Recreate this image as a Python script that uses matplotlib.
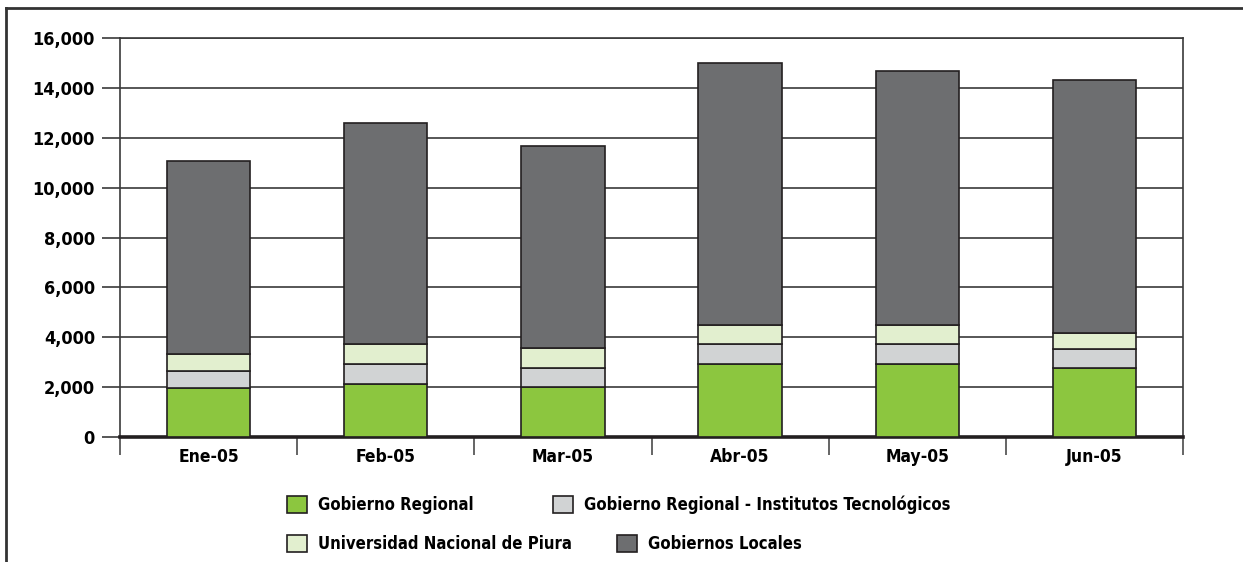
import numpy as np
import matplotlib
matplotlib.use('Agg')
from matplotlib import pyplot as plt
from matplotlib.lines import Line2D
from matplotlib.ticker import FuncFormatter

plt.rcParams['font.family'] = ['DejaVu Sans']
plt.rcParams['font.stretch'] = 'condensed'
plt.rcParams['font.weight'] = 'bold'

# data
meses = ['Ene-05', 'Feb-05', 'Mar-05', 'Abr-05', 'May-05', 'Jun-05']
gob_regional = [1950, 2110, 1990, 2940, 2940, 2780]
institutos = [710, 830, 780, 790, 790, 740]
unp = [680, 790, 790, 770, 770, 660]
gob_locales = [7710, 8860, 8110, 10500, 10180, 10130]

series = [
    ('Gobierno Regional', gob_regional, '#8cc63f'),
    ('Gobierno Regional - Institutos Tecnológicos', institutos, '#d1d3d4'),
    ('Universidad Nacional de Piura', unp, '#e2efcf'),
    ('Gobiernos Locales', gob_locales, '#6d6e70'),
]

fig = plt.figure(figsize=(12.43, 5.62), dpi=100)
ax = fig.add_axes([120/1243, 1-437/562, (1183-120)/1243, (437-38)/562])

x = np.arange(len(meses))
bottom = np.zeros(len(meses))
bars = []
for name, vals, col in series:
    b = ax.bar(x, vals, width=0.47, bottom=bottom, color=col,
               edgecolor='#231f20', linewidth=1.2, label=name, zorder=3)
    bars.append(b)
    bottom += np.array(vals)

ax.set_xlim(-0.5, len(meses) - 0.5)
ax.set_ylim(0, 16000)
ax.set_yticks(np.arange(0, 16001, 2000))
ax.yaxis.set_major_formatter(FuncFormatter(lambda v, p: '{:,}'.format(int(v))))
ax.grid(axis='y', color='#3a3a3a', linewidth=1.2, zorder=1)
ax.set_axisbelow(True)

ax.set_xticks(x)
ax.set_xticklabels(meses)
ax.set_xticks(np.arange(-0.5, len(meses)), minor=True)
ax.tick_params(axis='x', which='major', length=0, pad=8, labelsize=12.5)
ax.tick_params(axis='x', which='minor', length=13, width=1.1, color='#3a3a3a')
ax.tick_params(axis='y', length=13, width=1.2, color='#3a3a3a', pad=5, labelsize=13)

for s in ['left', 'right', 'top']:
    ax.spines[s].set_color('#3a3a3a')
    ax.spines[s].set_linewidth(1.2)
ax.spines['bottom'].set_color('#231f20')
ax.spines['bottom'].set_linewidth(2.6)

# outer frame (top and left edges)
fig.add_artist(Line2D([6/1243, 1], [1-8/562, 1-8/562], color='#333333', lw=2))
fig.add_artist(Line2D([6/1243, 6/1243], [0, 1-8/562], color='#333333', lw=2))

# legend, laid out like the original
pos = [(287, 505), (553, 505), (287, 544), (617, 544)]
for (name, vals, col), b, (px, py) in zip(series, bars, pos):
    fig.legend([b], [name], loc='center left', bbox_to_anchor=(px/1243, 1-py/562),
               frameon=False, fontsize=12, handlelength=1.2, handleheight=1.2,
               handletextpad=0.65, borderpad=0, borderaxespad=0)

fig.savefig('out.png', dpi=100)
